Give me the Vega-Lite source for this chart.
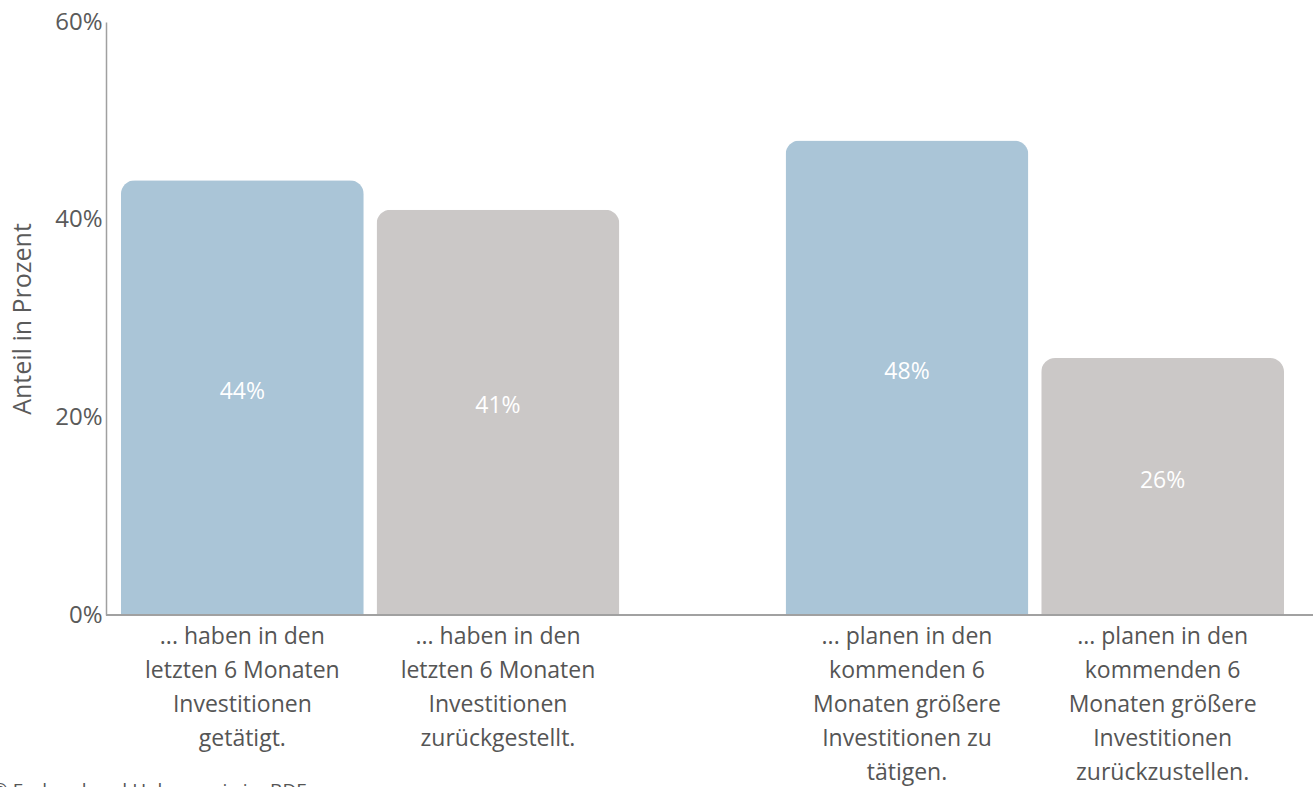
{
  "$schema": "https://vega.github.io/schema/vega-lite/v6.json",
  "width": 1207,
  "height": 593,
  "autosize": {"type": "none"},
  "padding": {"left": 106, "top": 22, "right": 0, "bottom": 172},
  "background": "white",
  "config": {
    "view": {"stroke": null},
    "font": "Open Sans",
    "text": {"font": "Open Sans"}
  },
  "title": {
    "text": "© Fachverband Holzenergie im BDF",
    "orient": "bottom",
    "anchor": "start",
    "frame": "group",
    "fontSize": 19,
    "fontWeight": "normal",
    "color": "#555555",
    "dx": -114,
    "offset": -3
  },
  "data": {
    "values": [
      {"group": "A", "type": "positiv", "value": 0.44, "label": "... haben in den|letzten 6 Monaten|Investitionen|getätigt."},
      {"group": "A", "type": "negativ", "value": 0.41, "label": "... haben in den|letzten 6 Monaten|Investitionen|zurückgestellt."},
      {"group": "B", "type": "positiv", "value": 0.48, "label": "... planen in den|kommenden 6|Monaten größere|Investitionen zu|tätigen."},
      {"group": "B", "type": "negativ", "value": 0.26, "label": "... planen in den|kommenden 6|Monaten größere|Investitionen|zurückzustellen."}
    ]
  },
  "encoding": {
    "x": {"field": "group", "type": "nominal", "axis": null, "scale": {"paddingInner": 0.25, "paddingOuter": 0.033, "align": 0.34}},
    "xOffset": {"field": "type", "type": "nominal", "sort": ["positiv", "negativ"], "scale": {"paddingInner": 0.05, "paddingOuter": 0}}
  },
  "layer": [
    {
      "mark": {"type": "bar", "cornerRadiusTopLeft": 14, "cornerRadiusTopRight": 14},
      "encoding": {
        "y": {
          "field": "value", "type": "quantitative",
          "scale": {"domain": [0, 0.6], "nice": false},
          "axis": {
            "values": [0, 0.2, 0.4, 0.6],
            "format": ".0%",
            "grid": false,
            "ticks": false,
            "domainColor": "#a0a0a0",
            "domainWidth": 1.5,
            "labelFontSize": 24,
            "labelColor": "#5a5a5a",
            "labelPadding": 4,
            "labelFont": "Open Sans",
            "title": "Anteil in Prozent",
            "titleFont": "Open Sans",
            "titleFontSize": 25,
            "titleFontWeight": "normal",
            "titleColor": "#5a5a5a",
            "titlePadding": 19
          }
        },
        "color": {"field": "type", "type": "nominal", "scale": {"domain": ["positiv", "negativ"], "range": ["#aac5d7", "#cbc8c7"]}, "legend": null}
      }
    },
    {
      "mark": {"type": "rule", "color": "#a0a0a0", "strokeWidth": 1.5},
      "encoding": {"y": {"datum": 0, "type": "quantitative"}, "x": null, "xOffset": null}
    },
    {
      "transform": [{"calculate": "datum.value / 2", "as": "mid"}],
      "mark": {"type": "text", "color": "white", "fontSize": 23, "baseline": "middle", "dy": -6},
      "encoding": {
        "y": {"field": "mid", "type": "quantitative"},
        "text": {"field": "value", "type": "quantitative", "format": ".0%"}
      }
    },
    {
      "mark": {"type": "text", "color": "#555555", "fontSize": 23, "baseline": "top", "lineBreak": "|", "lineHeight": 34, "dy": 11},
      "encoding": {
        "y": {"datum": 0, "type": "quantitative"},
        "text": {"field": "label", "type": "nominal"}
      }
    }
  ]
}
